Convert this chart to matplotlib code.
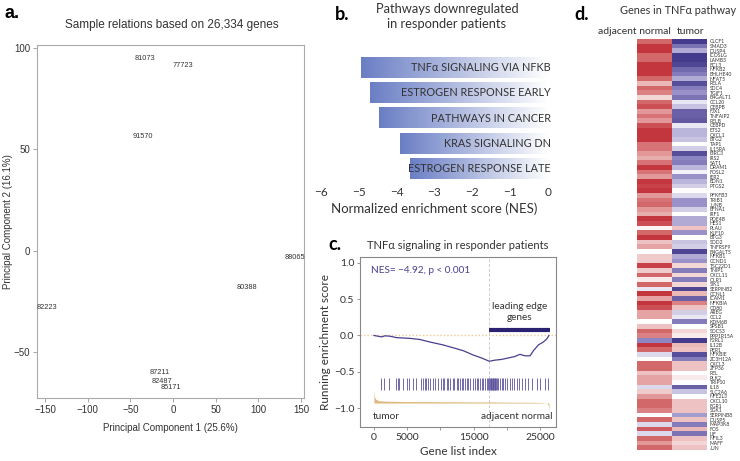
import matplotlib
matplotlib.use("Agg")
import matplotlib.pyplot as plt
import numpy as np
from matplotlib.colors import LinearSegmentedColormap

# ---- panel a: PCA sample labels
pca_names = ["81073", "77723", "91570", "88065", "80388", "82223", "87211", "82487", "85171"]
pca_pc1 = [-33, 12, -35, 143, 87, -148, -16, -13, -2]
pca_pc2 = [95, 91.6, 56.4, -3.5, -18, -28, -60, -64.5, -67.5]

# ---- panel b: pathways
pathways = ["TNF\u03b1 SIGNALING VIA NFKB", "ESTROGEN RESPONSE EARLY", "PATHWAYS IN CANCER",
            "KRAS SIGNALING DN", "ESTROGEN RESPONSE LATE"]
nes = [-4.95, -4.70, -4.47, -3.90, -3.65]

# ---- panel c: GSEA running score
es_x = [0, 1150, 1650, 2400, 3400, 5400, 6900, 8400, 10400, 11950, 13450, 14960, 16200, 17370,
        18200, 19200, 20200, 21200, 21700, 22000, 22700, 23500, 24000, 24750, 25500, 26000, 26334]
es_y = [0.0, -0.02, -0.005, -0.01, -0.03, -0.04, -0.055, -0.09, -0.13, -0.17, -0.21, -0.27, -0.31, -0.355,
        -0.34, -0.33, -0.31, -0.29, -0.27, -0.26, -0.28, -0.28, -0.21, -0.13, -0.09, -0.05, 0.0]
hits = [1000, 1510, 2260, 3310, 3560, 3820, 4320, 4920, 5270, 5870, 6330, 7080, 7330, 7680, 7830,
        8080, 8480, 8890, 9190, 9590, 10040, 10340, 10540, 10940, 11200, 11450, 11850, 12050, 12450,
        12700, 12950, 13250, 13450, 13710, 13960, 14210, 14460, 14960, 15210, 15460, 15710, 15960,
        16210, 16460, 16720, 16970, 17220, 17370, 17470, 17570, 17670, 17770, 17870, 17970, 18070,
        18170, 18270, 18370, 18470, 18720, 18970, 19220, 19480, 19730, 19980, 20480, 20730, 21080,
        21480, 21880, 22230, 22730, 23240, 23740, 24490, 24990, 25740, 26240]
rank_x = [0, 100, 300, 800, 2000, 5000, 10000, 15000, 17300, 20000, 24000, 25500, 26000, 26200, 26300, 26334]
rank_y = [-0.75, -0.85, -0.88, -0.9, -0.905, -0.91, -0.912, -0.915, -0.915, -0.918, -0.92, -0.925,
          -0.93, -0.95, -1.0, -1.12]
leading_start = 17300
n_genes = 26334

# ---- panel d: heatmap
genes = ["CLCF1", "SMAD3", "DUSP4", "ICOSLG", "LAMB3", "BCL3", "NFKB2", "BHLHE40", "NFAT5", "RELA",
         "SDC4", "TGIF1", "B4GALT1", "CCL20", "CEBPB", "FJX1", "TNFAIP2", "RELB", "CEBPD", "ETS2",
         "CXCL1", "BTG2", "TAP1", "IL15RA", "BIRC3", "IRS2", "SAT1", "DRAM1", "FOSL2", "IER2",
         "EDN1", "PTGS2", "", "PFKFB3", "TRIB1", "JUNB", "EFNA1", "IRF1", "PDE4B", "HES1",
         "PLAU", "KLF10", "BTG3", "SOD2", "TNFRSF9", "B4GALT5", "NFKB1", "CCND1", "TSC22D1", "TNIP1",
         "CXCL11", "OLR1", "SIK1", "SERPINB2", "CCNL1", "ICAM1", "NFKBIA", "CD80", "AREG", "CCL2",
         "KDM6B", "SPSB1", "SOCS3", "PPP1R15A", "F2RL1", "IL12B", "PER1", "NFKBIE", "ZC3H12A", "CXCL3",
         "ZFP36", "REL", "PLK2", "TRIP10", "IL18", "SLC2A6", "NFE2L3", "CXCL10", "EGR1", "SGK1",
         "SERPINB8", "DUSP5", "MAP3K8", "FOS", "LIF", "NFIL3", "MAFF", "JUN"]
normal = [0.7, 0.9, 0.9, 0.7, 0.7, 0.9, 0.9, 0.9, 0.7, 0.35, 0.7, 0.6, 0.2, 0.7, 0.8, 0.5, 0.65, 0.5,
          0.8, 0.9, 0.9, 0.9, 0.65, 0.65, 0.5, 0.4, 0.65, 0.9, 0.65, 0.5, 0.9, 0.85, 0.9, 0.5, 0.65,
          0.7, 0.5, 0.4, 0.9, 0.8, 0.05,
          0.7, 0.9, 0.3, 0.45, 0.0, 0.25, 0.25, 0.85, 0.25, 0.7, 0.1, 0.7, -0.1, 0.9, 0.45, 0.9, 0.8,
          0.45, 0.45, 0.0, 0.3, 0.7, 0.6, -0.5, 0.9, 0.7, -0.15, 0.02, 0.7, 0.7, 0.3, 0.45, 0.45,
          -0.15, 0.25, 0.5, 0.7, 0.7, 0.6, 0.0, 0.7, -0.15, 0.75, -0.15, 0.7, 0.5, 0.7]
tumor = [-0.9, -0.6, -0.35, -0.9, -0.9, -0.85, -0.65, -0.55, -0.35, -0.8, -0.55, -0.45, -0.6, -0.1,
         -0.25, -0.7, -0.7, -0.75, -0.1, -0.3, -0.3, -0.25, 0.0, -0.2, -0.8, -0.5, -0.55, -0.3, -0.05,
         -0.45, -0.3, -0.2, 0.02, -0.15, -0.45, -0.45, -0.2, 0.0, -0.35, -0.35, 0.3,
         -0.45, 0.0, -0.25, -0.2, -0.85, -0.35, -0.45, 0.2, -0.55, 0.2, -0.55, 0.2, -0.85, 0.35, -0.7,
         0.6, 0.3, -0.2, -0.1, -0.55, 0.0, 0.2, 0.1, -0.9, 0.35, 0.3, -0.8, -0.55, 0.3, 0.3, 0.0, 0.1,
         0.0, -0.7, -0.25, 0.0, 0.3, 0.3, 0.3, -0.4, 0.3, -0.55, 0.35, -0.6, 0.3, 0.2, 0.3]

W, H = 740, 461
ARIAL = "Liberation Sans"
CAL = "Lato"
GREY = "#333333"


def box(l, t, r, b):
    return [l / W, 1 - b / H, (r - l) / W, (b - t) / H]


fig = plt.figure(figsize=(W / 100, H / 100), dpi=100)

# ================= a =================
ax = fig.add_axes(box(37, 45, 304, 398))
ax.set_xlim(-159.4, 153.5)
ax.set_ylim(-72.8, 101.5)
for n, x, y in zip(pca_names, pca_pc1, pca_pc2):
    ax.text(x, y, n, ha="center", va="center", fontsize=5.3, family=ARIAL, color=GREY)
ax.set_xticks([-150, -100, -50, 0, 50, 100, 150])
ax.set_yticks([-50, 0, 50, 100])
for s in ax.spines.values():
    s.set_color("#aaaaaa")
    s.set_linewidth(0.8)
ax.tick_params(colors="#999999", labelcolor=GREY, labelsize=7, length=3, width=0.6, pad=2)
for lab in ax.get_xticklabels() + ax.get_yticklabels():
    lab.set_family(ARIAL)
ax.set_xlabel("Principal Component 1 (25.6%)", fontsize=7, family=ARIAL, color=GREY, labelpad=6)
fig.text(8 / W, 1 - 222 / H, "Principal Component 2 (16.1%)", rotation=90, ha="center", va="center",
         fontsize=7, family=ARIAL, color=GREY)
fig.text(172 / W, 1 - 25 / H, "Sample relations based on 26,334 genes", ha="center", va="center",
         fontsize=8.5, family=ARIAL, color=GREY)
fig.text(12 / W, 1 - 14 / H, "a.", ha="center", va="center", fontsize=13, weight="bold", family=ARIAL)

# ================= b =================
bx = fig.add_axes(box(321, 50, 548, 183))
blues = LinearSegmentedColormap.from_list("b", ["#ffffff", "#6a7ec4"])
grad = np.linspace(1, 0, 256)[None, :]
for i, (p, v) in enumerate(zip(pathways, nes)):
    bx.imshow(grad, extent=(v, 0, i + 0.41, i - 0.41), cmap=blues, aspect="auto", zorder=1)
    bx.text(0.08, i, p, ha="right", va="center", fontsize=7.8, family=CAL, color=GREY, zorder=2)
bx.set_xlim(-6, 0)
bx.set_ylim(4.55, -0.67)
for s in bx.spines.values():
    s.set_visible(False)
bx.set_yticks([])
bx.set_xticks(range(-6, 1))
bx.tick_params(length=0, labelsize=8.5, labelcolor=GREY, pad=3)
for lab in bx.get_xticklabels():
    lab.set_family(CAL)
bx.set_xlabel("Normalized enrichment score (NES)", fontsize=9.5, family=CAL, color=GREY, labelpad=3)
fig.text(447 / W, 1 - 16.5 / H, "Pathways downregulated\nin responder patients", ha="center", va="center",
         fontsize=9.3, family=CAL, color=GREY, linespacing=1.35)
fig.text(342 / W, 1 - 15 / H, "b.", ha="center", va="center", fontsize=13, weight="bold", family=CAL)

# ================= c =================
cx = fig.add_axes(box(360, 257, 556, 427))
cx.set_xlim(-2100, 27400)
cx.set_ylim(-1.26, 1.08)
cx.axhline(0, color="#f0c890", lw=1, ls=(0, (1, 1.5)), zorder=1)
cx.axvline(leading_start, color="#cccccc", lw=0.7, ls=(0, (3, 2)), zorder=1)
cx.plot(es_x, es_y, color="#4a3f8f", lw=0.9, zorder=3)
cx.vlines(hits, -0.59, -0.75, color="#5a4e9c", lw=0.7, alpha=0.85, zorder=2)
cx.fill_between(rank_x, rank_y, -0.93, color="#ddb97e", lw=0, zorder=2)
cx.plot([leading_start, n_genes + 200], [0.08, 0.08], color="#2a2170", lw=3, solid_capstyle="butt")
cx.text(leading_start + (n_genes + 200 - leading_start) / 2, 0.19, "leading edge\ngenes", ha="center",
        va="bottom", fontsize=7.2, family=CAL, color=GREY, linespacing=1.2)
cx.text(-500, 0.9, "NES= \u22124.92, p < 0.001", ha="left", va="center", fontsize=7.2, family=CAL, color="#4a3f8f")
cx.text(-200, -1.12, "tumor", ha="left", va="center", fontsize=7.3, family=CAL, color=GREY)
cx.text(26900, -1.12, "adjacent normal", ha="right", va="center", fontsize=7.3, family=CAL, color=GREY)
for s in cx.spines.values():
    s.set_color("#888888")
    s.set_linewidth(0.8)
cx.set_xticks(range(0, 25001, 5000))
cx.set_xticklabels(["0", "5000", "", "15000", "", "25000"])
cx.set_yticks([-1.0, -0.5, 0.0, 0.5, 1.0])
cx.set_yticklabels(["\u22121.0", "\u22120.5", "0.0", "0.5", "1.0"])
cx.tick_params(colors="#888888", labelcolor=GREY, labelsize=7.5, length=2.5, width=0.6, pad=1.5)
for lab in cx.get_xticklabels() + cx.get_yticklabels():
    lab.set_family(CAL)
cx.set_xlabel("Gene list index", fontsize=8.5, family=CAL, color=GREY, labelpad=3)
cx.set_ylabel("Running enrichment score", fontsize=8.5, family=CAL, color=GREY, labelpad=2)
fig.text(458 / W, 1 - 245 / H, "TNF\u03b1 signaling in responder patients", ha="center", va="center",
         fontsize=8.1, family=CAL, color=GREY)
fig.text(335 / W, 1 - 244 / H, "c.", ha="center", va="center", fontsize=13, weight="bold", family=CAL)

# ================= d =================
dx = fig.add_axes(box(637, 39, 707, 450))
heat_cmap = LinearSegmentedColormap.from_list("pw", ["#342a80", "#8e86c2", "#ffffff", "#e39a9a", "#bd1f28"])
mat = np.column_stack([normal, tumor])
dx.imshow(mat, aspect="auto", cmap=heat_cmap, vmin=-1, vmax=1, interpolation="nearest")
for s in dx.spines.values():
    s.set_visible(False)
dx.set_xticks([])
dx.yaxis.tick_right()
dx.set_yticks(range(len(genes)))
dx.set_yticklabels(genes, fontsize=3.6, family=CAL, color=GREY)
dx.tick_params(axis="y", length=0, pad=2)
fig.text(634 / W, 1 - 31 / H, "adjacent normal", ha="center", va="center", fontsize=7.5, family=CAL, color=GREY)
fig.text(691 / W, 1 - 31 / H, "tumor", ha="center", va="center", fontsize=7.5, family=CAL, color=GREY)
fig.text(678 / W, 1 - 10 / H, "Genes in TNF\u03b1 pathway", ha="center", va="center", fontsize=7.8,
         family=CAL, color=GREY)
fig.text(582 / W, 1 - 15 / H, "d.", ha="center", va="center", fontsize=13, weight="bold", family=CAL)

fig.savefig("out.png", dpi=100)
